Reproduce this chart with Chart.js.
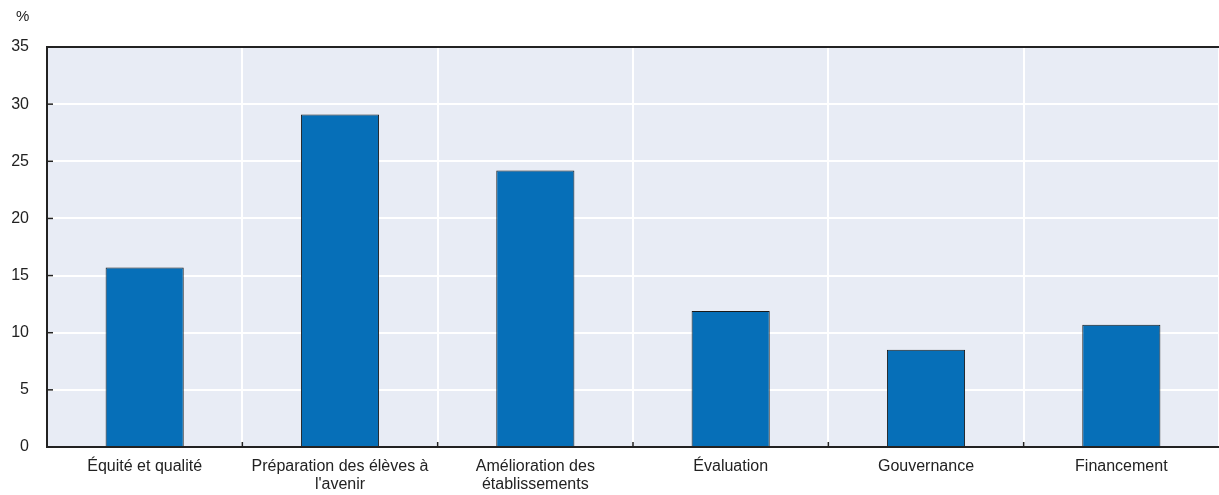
<!DOCTYPE html>
<html>
<head>
<meta charset="utf-8">
<script src="https://cdn.jsdelivr.net/npm/chart.js@4/dist/chart.umd.min.js"></script>
<style>
  html, body { margin: 0; padding: 0; background: #fff; }
  #wrap { position: relative; width: 1219px; height: 495px; }
</style>
</head>
<body>
<div id="wrap"><canvas id="chart"></canvas></div>
<script>
// categories (multi-line labels are arrays)
const categories = [
    'Équité et qualité',
    ['Préparation des élèves à', "l'avenir"],
    ['Amélioration des', 'établissements'],
    'Évaluation',
    'Gouvernance',
    'Financement'
];
const values = [15.7, 29.1, 24.2, 11.9, 8.5, 10.7];
const yTicks = [0, 5, 10, 15, 20, 25, 30, 35];

const barColor = '#066fb8';
const plotBg = '#e8ecf5';
const axisColor = '#222222';
const fontFamily = '"Liberation Sans", Arial, sans-serif';

// plot background, top frame line, inner tick marks and the % unit label
const decorPlugin = {
    id: 'decor',
    beforeDraw(chart) {
        const { ctx, chartArea } = chart;
        ctx.save();
        ctx.fillStyle = plotBg;
        ctx.fillRect(chartArea.left, chartArea.top, chartArea.right - chartArea.left, chartArea.bottom - chartArea.top);
        ctx.restore();
    },
    afterDraw(chart) {
        const { ctx, chartArea, scales } = chart;
        ctx.save();
        ctx.strokeStyle = axisColor;
        ctx.lineWidth = 2;
        ctx.beginPath();
        ctx.moveTo(chartArea.left, chartArea.top);
        ctx.lineTo(chartArea.right, chartArea.top);
        ctx.stroke();

        ctx.lineWidth = 1.5;
        // small ticks on y axis, pointing inward
        yTicks.forEach(v => {
            const y = scales.y.getPixelForValue(v);
            ctx.beginPath();
            ctx.moveTo(chartArea.left, y);
            ctx.lineTo(chartArea.left + 6, y);
            ctx.stroke();
        });
        // small ticks on x axis at category boundaries
        for (let i = 1; i < categories.length; i++) {
            const x = (scales.x.getPixelForValue(i - 1) + scales.x.getPixelForValue(i)) / 2;
            ctx.beginPath();
            ctx.moveTo(x, chartArea.bottom);
            ctx.lineTo(x, chartArea.bottom - 5);
            ctx.stroke();
        }

        ctx.fillStyle = axisColor;
        ctx.font = '15px ' + fontFamily;
        ctx.textAlign = 'left';
        ctx.textBaseline = 'middle';
        ctx.fillText('%', 16, 17);
        ctx.restore();
    }
};

new Chart(document.getElementById('chart'), {
    type: 'bar',
    data: {
        labels: categories,
        datasets: [{
            data: values,
            backgroundColor: barColor,
            borderColor: '#1a1a1a',
            borderWidth: 1,
            borderSkipped: 'bottom',
            barPercentage: 0.4,
            categoryPercentage: 1.0
        }]
    },
    options: {
        responsive: true,
        maintainAspectRatio: false,
        animation: false,
        layout: { padding: { top: 47, right: 0, left: 0, bottom: 0 } },
        plugins: {
            legend: { display: false },
            tooltip: { enabled: false }
        },
        scales: {
            x: {
                afterFit(scale) { scale.height = 48; },
                grid: { color: '#ffffff', lineWidth: 2, offset: true, drawTicks: false },
                border: { display: true, color: axisColor, width: 2 },
                ticks: {
                    color: axisColor,
                    font: { family: fontFamily, size: 16, lineHeight: 1.1 },
                    padding: 11,
                    maxRotation: 0,
                    autoSkip: false
                }
            },
            y: {
                min: 0,
                max: 35,
                afterBuildTicks(scale) {
                    scale.ticks = yTicks.map(v => ({ value: v }));
                },
                afterFit(scale) { scale.width = 47; },
                grid: { color: '#ffffff', lineWidth: 2, drawTicks: false },
                border: { display: true, color: axisColor, width: 2 },
                ticks: {
                    color: axisColor,
                    font: { family: fontFamily, size: 16 },
                    padding: 18
                }
            }
        }
    },
    plugins: [decorPlugin]
});
</script>
</body>
</html>
